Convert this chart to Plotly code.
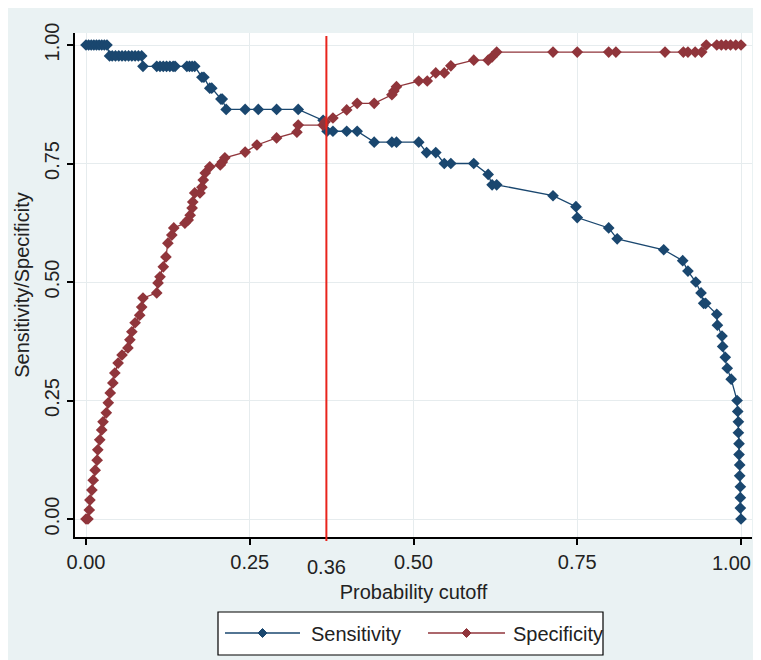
import plotly.graph_objects as go

# ---------------- data ----------------
sens_x = [0.000, 0.004, 0.008, 0.012, 0.016, 0.020, 0.024, 0.028, 0.032,
          0.036, 0.040, 0.045, 0.050, 0.055, 0.060, 0.065, 0.070, 0.075, 0.080, 0.085,
          0.087, 0.108, 0.113, 0.118, 0.123, 0.128, 0.133, 0.136, 0.154, 0.158, 0.162, 0.166,
          0.177, 0.180, 0.189, 0.192, 0.206, 0.208, 0.214, 0.243, 0.263, 0.291, 0.324,
          0.362, 0.368, 0.377, 0.398, 0.414, 0.440, 0.467, 0.474, 0.508, 0.520, 0.534,
          0.547, 0.557, 0.592, 0.614, 0.620, 0.627, 0.713, 0.748, 0.750, 0.798, 0.811,
          0.882, 0.911, 0.919, 0.931, 0.939, 0.943, 0.946, 0.963, 0.964, 0.971, 0.972,
          0.976, 0.979, 0.985, 0.994, 0.995, 0.996, 0.996, 0.997, 0.997, 0.998, 0.998,
          0.999, 0.999, 0.999, 1.000]
sens_y = [1.000, 1.000, 1.000, 1.000, 1.000, 1.000, 1.000, 1.000, 1.000,
          0.977, 0.977, 0.977, 0.977, 0.977, 0.977, 0.977, 0.977, 0.977, 0.977, 0.977,
          0.955, 0.955, 0.955, 0.955, 0.955, 0.955, 0.955, 0.955, 0.955, 0.955, 0.955, 0.955,
          0.932, 0.932, 0.909, 0.909, 0.886, 0.886, 0.864, 0.864, 0.864, 0.864, 0.864,
          0.841, 0.818, 0.818, 0.818, 0.818, 0.795, 0.795, 0.795, 0.795, 0.773, 0.773,
          0.750, 0.750, 0.750, 0.727, 0.705, 0.705, 0.682, 0.659, 0.636, 0.614, 0.591,
          0.568, 0.545, 0.523, 0.500, 0.477, 0.455, 0.455, 0.432, 0.409, 0.386, 0.364,
          0.341, 0.318, 0.295, 0.250, 0.227, 0.205, 0.182, 0.159, 0.136, 0.114, 0.091,
          0.068, 0.045, 0.023, 0.000]

spec_x = [0.000, 0.003, 0.005, 0.006, 0.009, 0.011, 0.014, 0.017, 0.018, 0.021,
          0.024, 0.026, 0.031, 0.034, 0.037, 0.041, 0.044, 0.049, 0.055, 0.064,
          0.067, 0.070, 0.075, 0.082, 0.085, 0.087, 0.108, 0.110, 0.113, 0.118,
          0.122, 0.125, 0.131, 0.134, 0.151, 0.156, 0.159, 0.162, 0.163, 0.166,
          0.174, 0.177, 0.179, 0.182, 0.189, 0.205, 0.208, 0.212, 0.243, 0.261,
          0.291, 0.322, 0.324, 0.362, 0.365, 0.377, 0.398, 0.414, 0.440, 0.467,
          0.470, 0.474, 0.508, 0.521, 0.534, 0.547, 0.557, 0.592, 0.614, 0.620,
          0.627, 0.713, 0.750, 0.798, 0.809, 0.884, 0.912, 0.919, 0.930, 0.940,
          0.947, 0.963, 0.970, 0.977, 0.984, 0.992, 1.000]
spec_y = [0.000, 0.000, 0.019, 0.040, 0.061, 0.082, 0.103, 0.124, 0.146, 0.167,
          0.188, 0.205, 0.224, 0.245, 0.266, 0.287, 0.308, 0.329, 0.346, 0.361,
          0.378, 0.395, 0.414, 0.430, 0.447, 0.466, 0.477, 0.498, 0.511, 0.532,
          0.553, 0.582, 0.599, 0.614, 0.624, 0.631, 0.641, 0.656, 0.669, 0.688,
          0.688, 0.700, 0.715, 0.730, 0.743, 0.747, 0.753, 0.762, 0.774, 0.789,
          0.804, 0.816, 0.831, 0.831, 0.838, 0.846, 0.863, 0.877, 0.877, 0.895,
          0.903, 0.912, 0.924, 0.924, 0.941, 0.941, 0.956, 0.968, 0.968, 0.975,
          0.985, 0.985, 0.985, 0.985, 0.985, 0.985, 0.985, 0.985, 0.985, 0.985,
          1.000, 1.000, 1.000, 1.000, 1.000, 1.000, 1.000]

cutoff = 0.367
cutoff_label = "0.36"
tick_vals = [0, 0.25, 0.5, 0.75, 1.0]
tick_text = ["0.00", "0.25", "0.50", "0.75", "1.00"]
series_names = ["Sensitivity", "Specificity"]

# ---------------- style ----------------
NAVY = "#1A476F"
MAROON = "#90353B"
RED = "#E8241C"
BG = "#EAF2F3"
GRID = "#E6ECEE"
TXT = "#222222"
FONT = "Liberation Sans, Arial, sans-serif"
FS = 20

fig = go.Figure()
fig.add_trace(go.Scatter(x=sens_x, y=sens_y, mode="lines+markers", name=series_names[0],
                         line=dict(color=NAVY, width=1.3),
                         marker=dict(symbol="diamond", size=9, color=NAVY),
                         showlegend=False))
fig.add_trace(go.Scatter(x=spec_x, y=spec_y, mode="lines+markers", name=series_names[1],
                         line=dict(color=MAROON, width=1.3),
                         marker=dict(symbol="diamond", size=9, color=MAROON),
                         showlegend=False))

# page offset (default body margin) and figure geometry
OFF = 8
W, H = 745, 652
L, R, T, B = 67, 1, 25, 123
pw, ph = W - L - R, H - T - B

def px(x):  # page pixel -> paper x
    return (x - OFF - L) / pw

def py(y):  # page pixel -> paper y
    return (H - B - (y - OFF)) / ph

shapes = []
# red cutoff line
shapes.append(dict(type="line", xref="x", yref="paper", x0=cutoff, x1=cutoff,
                   y0=py(541), y1=py(36), line=dict(color=RED, width=2)))
# legend box
shapes.append(dict(type="rect", xref="paper", yref="paper",
                   x0=px(218), x1=px(603), y0=py(655), y1=py(612),
                   fillcolor="white", line=dict(color="black", width=1.2)))
ly = 633
for (x0, x1, col) in [(225, 300, NAVY), (428, 505, MAROON)]:
    shapes.append(dict(type="line", xref="paper", yref="paper",
                       x0=px(x0), x1=px(x1), y0=py(ly), y1=py(ly),
                       line=dict(color=col, width=1.3)))
    cx = (x0 + x1) / 2
    d = 4.5
    path = (f"M {px(cx)},{py(ly - d)} L {px(cx + d)},{py(ly)} "
            f"L {px(cx)},{py(ly + d)} L {px(cx - d)},{py(ly)} Z")
    shapes.append(dict(type="path", xref="paper", yref="paper", path=path,
                       fillcolor=col, line=dict(color=col, width=1)))

# x tick labels: the last one would run past the page edge, so it is drawn
# right-aligned to the figure edge instead of centred on its tick
x_tick_text_axis = tick_text[:-1] + [""]

annotations = [
    dict(x=cutoff, y=py(567), xref="x", yref="paper", text=cutoff_label,
         showarrow=False, font=dict(family=FONT, size=FS, color=TXT),
         xanchor="center", yanchor="middle"),
    dict(x=1.0, y=py(563), xref="paper", yref="paper", text=tick_text[-1],
         showarrow=False, font=dict(family=FONT, size=FS, color=TXT),
         xanchor="right", yanchor="middle", xshift=1),
    dict(x=px(309), y=py(634), xref="paper", yref="paper", text=series_names[0],
         showarrow=False, font=dict(family=FONT, size=FS, color=TXT),
         xanchor="left", yanchor="middle"),
    dict(x=px(511), y=py(634), xref="paper", yref="paper", text=series_names[1],
         showarrow=False, font=dict(family=FONT, size=FS, color=TXT),
         xanchor="left", yanchor="middle"),
]

# axis ranges so that 0 and 1 fall on the reference pixel positions
x0px, x1px = 86, 741
y0px, y1px = 519, 45
left_pg, right_pg = OFF + L, OFF + W - R
top_pg, bot_pg = OFF + T, OFF + H - B
xr = [(left_pg - x0px) / (x1px - x0px), 1 + (right_pg - x1px) / (x1px - x0px)]
yr = [-(bot_pg - y0px) / (y0px - y1px), 1 + (y1px - top_pg) / (y0px - y1px)]

fig.update_layout(
    width=W, height=H,
    margin=dict(l=L, r=R, t=T, b=B),
    paper_bgcolor=BG,
    plot_bgcolor="white",
    font=dict(family=FONT, color=TXT),
    shapes=shapes,
    annotations=annotations,
    xaxis=dict(range=xr, tickvals=tick_vals, ticktext=x_tick_text_axis,
               showgrid=True, gridcolor=GRID, gridwidth=1, zeroline=False,
               showline=True, linecolor="black", linewidth=1.5,
               ticks="outside", ticklen=6, tickwidth=1.5, tickcolor="black",
               tickfont=dict(family=FONT, size=FS, color=TXT),
               title=dict(text="Probability cutoff", standoff=13,
                          font=dict(family=FONT, size=FS, color=TXT))),
    yaxis=dict(range=yr, tickvals=tick_vals, ticktext=tick_text, tickangle=-90,
               showgrid=True, gridcolor=GRID, gridwidth=1, zeroline=False,
               showline=True, linecolor="black", linewidth=1.5,
               ticks="outside", ticklen=6, tickwidth=1.5, tickcolor="black",
               tickfont=dict(family=FONT, size=FS, color=TXT),
               title=dict(text="Sensitivity/Specificity", standoff=6,
                          font=dict(family=FONT, size=FS, color=TXT))),
)

fig.write_html("out.html")
